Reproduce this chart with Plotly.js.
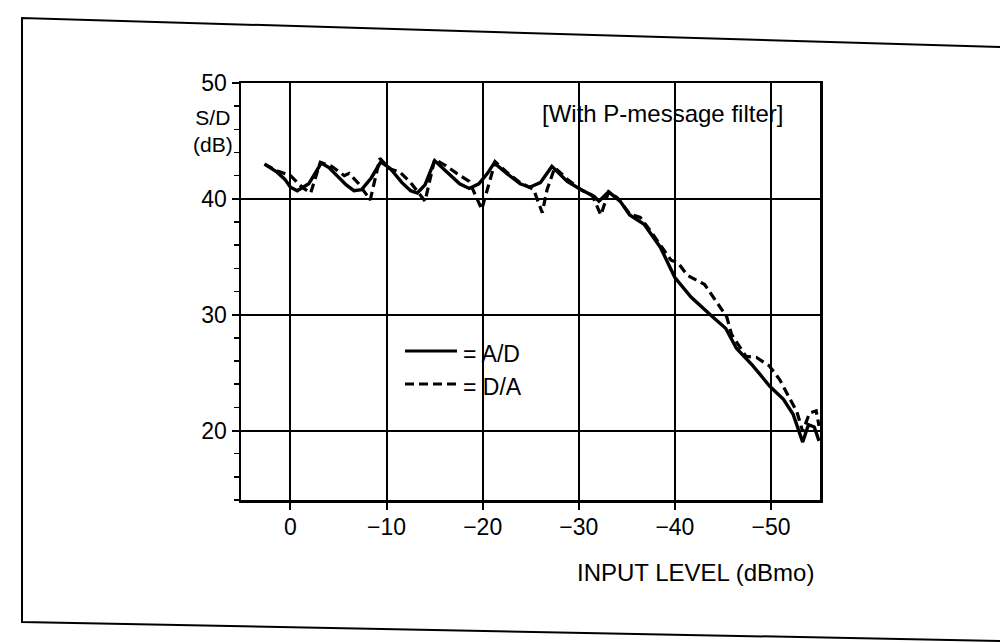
<!DOCTYPE html>
<html>
<head>
<meta charset="utf-8">
<script src="https://cdn.plot.ly/plotly-3.0.1.min.js"></script>
<style>html,body{margin:0;padding:0;background:#fff;}#chart{width:1000px;height:643px;}</style>
</head>
<body>
<div id="chart"></div>
<script>
// A/D (solid) S/D readings
const xAD = [2.7, 1.4, 0.6, 0.0, -0.7, -1.9, -2.7, -3.2, -4.0, -4.9, -5.8, -6.6, -7.4, -8.4, -9.4, -10.4, -11.6, -12.5, -13.2, -14.0, -14.6, -15.0, -16.3, -17.6, -18.6, -19.6, -20.5, -21.2, -22.5, -23.9, -24.9, -26.0, -27.2, -28.8, -30.2, -31.6, -32.1, -33.1, -34.3, -35.3, -36.8, -38.5, -40.0, -41.7, -43.8, -45.3, -46.4, -48.1, -49.9, -51.3, -52.3, -53.3, -53.9, -54.5, -55.0];
const yAD = [43.0, 42.3, 41.7, 41.0, 40.7, 41.3, 42.4, 43.1, 42.7, 42.0, 41.2, 40.7, 40.8, 41.8, 43.2, 42.6, 41.4, 40.7, 40.5, 41.2, 42.5, 43.3, 42.3, 41.3, 40.9, 41.3, 42.2, 43.1, 42.2, 41.3, 41.0, 41.4, 42.8, 41.5, 40.8, 40.2, 39.8, 40.6, 39.8, 38.6, 37.8, 35.8, 33.2, 31.5, 29.9, 28.8, 27.1, 25.6, 23.8, 22.7, 21.4, 19.0, 20.5, 20.3, 19.1];

// D/A (dashed) S/D readings
const xDA = [2.7, 1.35, 0.0, -1.2, -2.1, -3.1, -4.3, -5.6, -6.1, -7.1, -8.3, -9.3, -10.3, -11.4, -12.5, -14.0, -15.0, -16.1, -17.3, -18.6, -19.9, -21.3, -22.5, -23.9, -25.3, -26.2, -26.7, -27.5, -28.8, -30.2, -31.4, -32.3, -33.1, -34.0, -35.3, -36.4, -37.4, -39.6, -40.3, -41.3, -43.1, -44.5, -45.4, -45.9, -47.4, -48.5, -49.8, -50.9, -51.6, -52.7, -53.3, -54.0, -54.7, -55.0];
const yDA = [43.0, 42.4, 42.0, 41.0, 40.5, 43.15, 42.8, 42.0, 42.2, 41.3, 39.9, 43.5, 42.6, 42.3, 41.4, 39.8, 43.4, 42.9, 42.2, 41.5, 39.1, 43.2, 42.3, 41.4, 40.8, 38.8, 40.8, 42.7, 41.7, 40.8, 40.3, 38.6, 40.6, 40.1, 38.7, 38.4, 37.3, 34.7, 34.5, 33.4, 32.6, 30.9, 29.8, 28.3, 26.4, 26.3, 25.6, 24.4, 23.3, 21.6, 19.9, 21.5, 21.7, 20.4];

const seriesNames = ["= A/D", "= D/A"];
const xTickVals = [0, -10, -20, -30, -40, -50];
const yTickVals = [20, 30, 40, 50];

const FONT = "Liberation Sans, Arial, Helvetica, sans-serif";

// plot rectangle in pixels (for paper-coordinate decorations)
const L = 241, R = 820, T = 83, B = 500;
const px = v => (v - L) / (R - L);
const py = v => (B - v) / (B - T);

const traces = [
  {x: xAD, y: yAD, name: seriesNames[0], mode: "lines", type: "scatter",
   line: {color: "#000", width: 3.4, dash: "solid"}, hoverinfo: "skip"},
  {x: xDA, y: yDA, name: seriesNames[1], mode: "lines", type: "scatter",
   line: {color: "#000", width: 3.2, dash: "9px,5px"}, hoverinfo: "skip"}
];

const shapes = [
  // legend samples
  {type: "line", xref: "paper", yref: "paper", x0: px(405), x1: px(457), y0: py(351), y1: py(351),
   line: {color: "#000", width: 3.2}},
  {type: "line", xref: "paper", yref: "paper", x0: px(405), x1: px(457), y0: py(384), y1: py(384),
   line: {color: "#000", width: 3.2, dash: "9px,5px"}},
  // page frame
  {type: "path", xref: "paper", yref: "paper",
   path: "M " + px(1002) + " " + py(47) + " L " + px(22) + " " + py(18) + " L " + px(22) + " " + py(622) + " L " + px(1002) + " " + py(641),
   line: {color: "#000", width: 2}}
];

const annotations = [
  {text: "S/D<br>(dB)", xref: "paper", yref: "paper", x: px(235), y: py(131),
   xanchor: "right", yanchor: "middle", showarrow: false, align: "center",
   font: {family: FONT, size: 21, color: "#000"}},
  {text: "[With P-message filter]", xref: "paper", yref: "paper", x: px(662), y: py(113),
   xanchor: "center", yanchor: "middle", showarrow: false,
   font: {family: FONT, size: 24, color: "#000"}},
  {text: "INPUT LEVEL (dBmo)", xref: "paper", yref: "paper", x: px(695), y: py(572),
   xanchor: "center", yanchor: "middle", showarrow: false,
   font: {family: FONT, size: 24, color: "#000"}},
  {text: seriesNames[0], xref: "paper", yref: "paper", x: px(461), y: py(354),
   xanchor: "left", yanchor: "middle", showarrow: false,
   font: {family: FONT, size: 23, color: "#000"}},
  {text: seriesNames[1], xref: "paper", yref: "paper", x: px(461), y: py(387),
   xanchor: "left", yanchor: "middle", showarrow: false,
   font: {family: FONT, size: 23, color: "#000"}}
];

const layout = {
  width: 1000, height: 643,
  margin: {l: L, r: 1000 - R, t: T, b: 643 - B, pad: 0},
  paper_bgcolor: "#fff", plot_bgcolor: "#fff",
  showlegend: false,
  font: {family: FONT, color: "#000"},
  xaxis: {
    range: [5.15, -55.1], tickmode: "array", tickvals: xTickVals,
    ticks: "outside", ticklen: 7, tickwidth: 2, tickcolor: "#000",
    ticklabelstandoff: -2,
    showgrid: true, gridcolor: "#000", gridwidth: 2,
    showline: true, linecolor: "#000", linewidth: 2.5, mirror: true,
    zeroline: false, tickfont: {family: FONT, size: 23, color: "#000"}
  },
  yaxis: {
    range: [14, 50], tickmode: "array", tickvals: yTickVals,
    ticks: "outside", ticklen: 7, tickwidth: 2, tickcolor: "#000",
    minor: {tickmode: "linear", tick0: 0, dtick: 2, ticks: "outside", ticklen: 5, tickwidth: 1.5, tickcolor: "#000", showgrid: false},
    showgrid: true, gridcolor: "#000", gridwidth: 2,
    showline: true, linecolor: "#000", linewidth: 2.5, mirror: true,
    zeroline: false, tickfont: {family: FONT, size: 23, color: "#000"}
  },
  shapes: shapes,
  annotations: annotations
};

Plotly.newPlot("chart", traces, layout, {displayModeBar: false, staticPlot: true});
</script>
</body>
</html>
